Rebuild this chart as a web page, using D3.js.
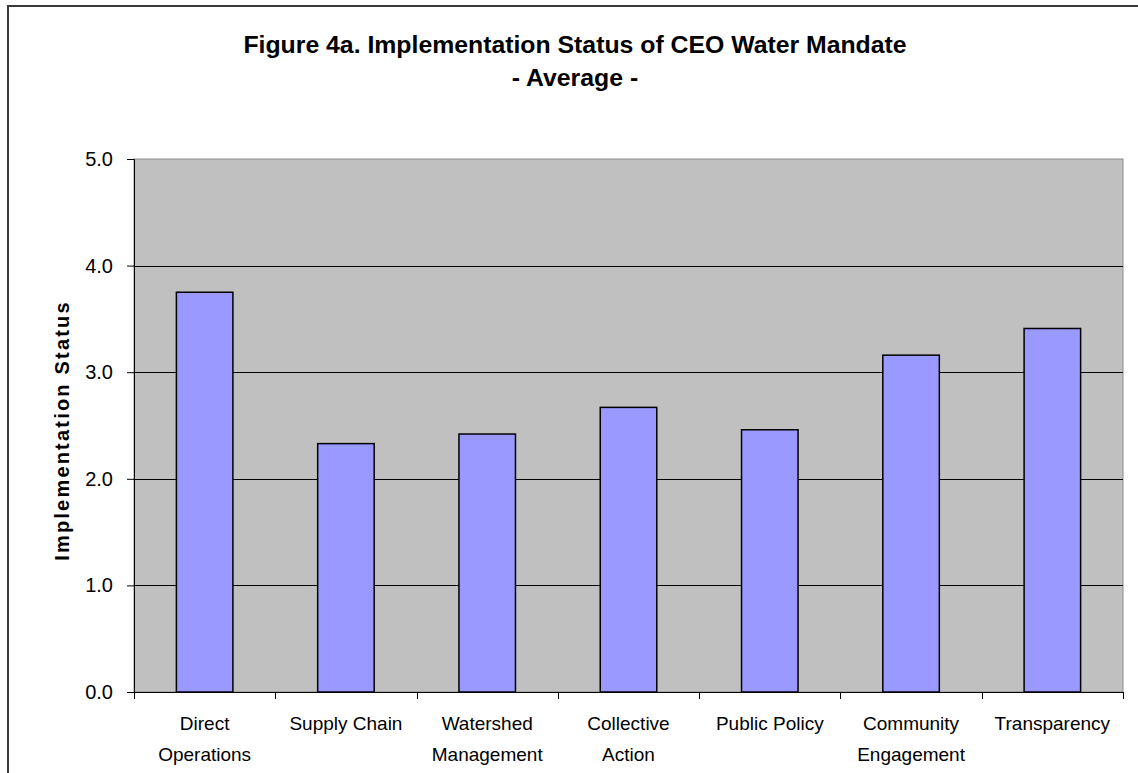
<!DOCTYPE html>
<html>
<head>
<meta charset="utf-8">
<script src="https://cdn.jsdelivr.net/npm/d3@7"></script>
<style>
  body { margin: 0; background: #fff; }
  svg { display: block; font-family: Arial, "Liberation Sans", sans-serif; }
</style>
</head>
<body>
<div id="chart"></div>
<script>
var categories = [
  ["Direct", "Operations"],
  ["Supply Chain"],
  ["Watershed", "Management"],
  ["Collective", "Action"],
  ["Public Policy"],
  ["Community", "Engagement"],
  ["Transparency"]
];
var averages = [3.75, 2.33, 2.42, 2.67, 2.46, 3.16, 3.41];
var yTicks = [0, 1, 2, 3, 4, 5];
var titleLines = ["Figure 4a. Implementation Status of CEO Water Mandate", "- Average -"];
var yTitle = "Implementation Status";

var w = 1138, h = 773;
var plot = { left: 134, right: 1123, top: 159, bottom: 692 };

var svg = d3.select("#chart").append("svg")
    .attr("width", w)
    .attr("height", h);

//chart area border, right and bottom edges fall off the picture
svg.append("rect")
    .attr("x", 8).attr("y", 6)
    .attr("width", 1134).attr("height", 790)
    .attr("fill", "#fff")
    .attr("stroke", "#3a3a3a")
    .attr("stroke-width", 2);

var idx = d3.range(categories.length);

var x = d3.scaleBand()
    .domain(idx)
    .range([plot.left, plot.right])
    .paddingInner(0.6)
    .paddingOuter(0.3);

var y = d3.scaleLinear()
    .domain([0, 5])
    .range([plot.bottom, plot.top]);

var step = x.step();

//plot background
svg.append("rect")
    .attr("x", plot.left).attr("y", plot.top)
    .attr("width", plot.right - plot.left)
    .attr("height", plot.bottom - plot.top)
    .attr("fill", "#c0c0c0")
    .attr("stroke", "#8a8a8a")
    .attr("stroke-width", 1);

//gridlines
svg.append("g").selectAll("line")
    .data(yTicks.filter(function(d) { return d > 0 && d < 5; }))
    .enter().append("line")
    .attr("x1", plot.left).attr("x2", plot.right)
    .attr("y1", function(d) { return Math.round(y(d)) + 0.5; })
    .attr("y2", function(d) { return Math.round(y(d)) + 0.5; })
    .attr("stroke", "#000")
    .attr("stroke-width", 1);

//bars
svg.append("g").selectAll("rect")
    .data(averages)
    .enter().append("rect")
    .attr("x", function(d, i) { return x(i); })
    .attr("y", function(d) { return y(d); })
    .attr("width", x.bandwidth())
    .attr("height", function(d) { return y(0) - y(d); })
    .attr("fill", "#9999ff")
    .attr("stroke", "#000")
    .attr("stroke-width", 1.5);

//y axis
var yAxis = d3.axisLeft(y)
    .tickValues(yTicks)
    .tickFormat(d3.format(".1f"))
    .tickSize(7)
    .tickPadding(14);

var ya = svg.append("g")
    .attr("transform", "translate(" + plot.left + ",0)")
    .call(yAxis);
ya.select(".domain").attr("stroke", "#000");
ya.selectAll(".tick line").attr("stroke", "#000");
ya.selectAll(".tick text")
    .attr("font-size", 20)
    .attr("font-family", "Arial, 'Liberation Sans', sans-serif")
    .attr("fill", "#000");

//x axis: ticks sit between categories
var xBounds = idx.map(function(i) { return x(i) - step * 0.3; }).concat([plot.right]);
svg.append("line")
    .attr("x1", plot.left).attr("x2", plot.right)
    .attr("y1", plot.bottom + 0.5).attr("y2", plot.bottom + 0.5)
    .attr("stroke", "#000");
svg.append("g").selectAll("line")
    .data(xBounds)
    .enter().append("line")
    .attr("x1", function(d) { return Math.round(d) + 0.5; })
    .attr("x2", function(d) { return Math.round(d) + 0.5; })
    .attr("y1", plot.bottom)
    .attr("y2", plot.bottom + 7)
    .attr("stroke", "#000");

var labels = svg.append("g").selectAll("text")
    .data(categories)
    .enter().append("text")
    .attr("text-anchor", "middle")
    .attr("font-size", 19)
    .attr("fill", "#000")
    .attr("transform", function(d, i) {
        return "translate(" + (x(i) + x.bandwidth() / 2) + "," + 730 + ")";
    });
labels.selectAll("tspan")
    .data(function(d) { return d; })
    .enter().append("tspan")
    .attr("x", 0)
    .attr("y", function(d, j) { return j * 31; })
    .text(function(d) { return d; });

//axis title
svg.append("text")
    .attr("transform", "translate(69," + ((plot.top + plot.bottom) / 2 + 5) + ") rotate(-90)")
    .attr("text-anchor", "middle")
    .attr("font-size", 20)
    .attr("font-weight", "bold")
    .attr("letter-spacing", 2.2)
    .attr("fill", "#000")
    .text(yTitle);

//chart title
svg.append("g").selectAll("text")
    .data(titleLines)
    .enter().append("text")
    .attr("x", 575)
    .attr("y", function(d, i) { return 53 + i * 33; })
    .attr("text-anchor", "middle")
    .attr("font-size", 24.8)
    .attr("font-weight", "bold")
    .attr("fill", "#000")
    .text(function(d) { return d; });
</script>
</body>
</html>
